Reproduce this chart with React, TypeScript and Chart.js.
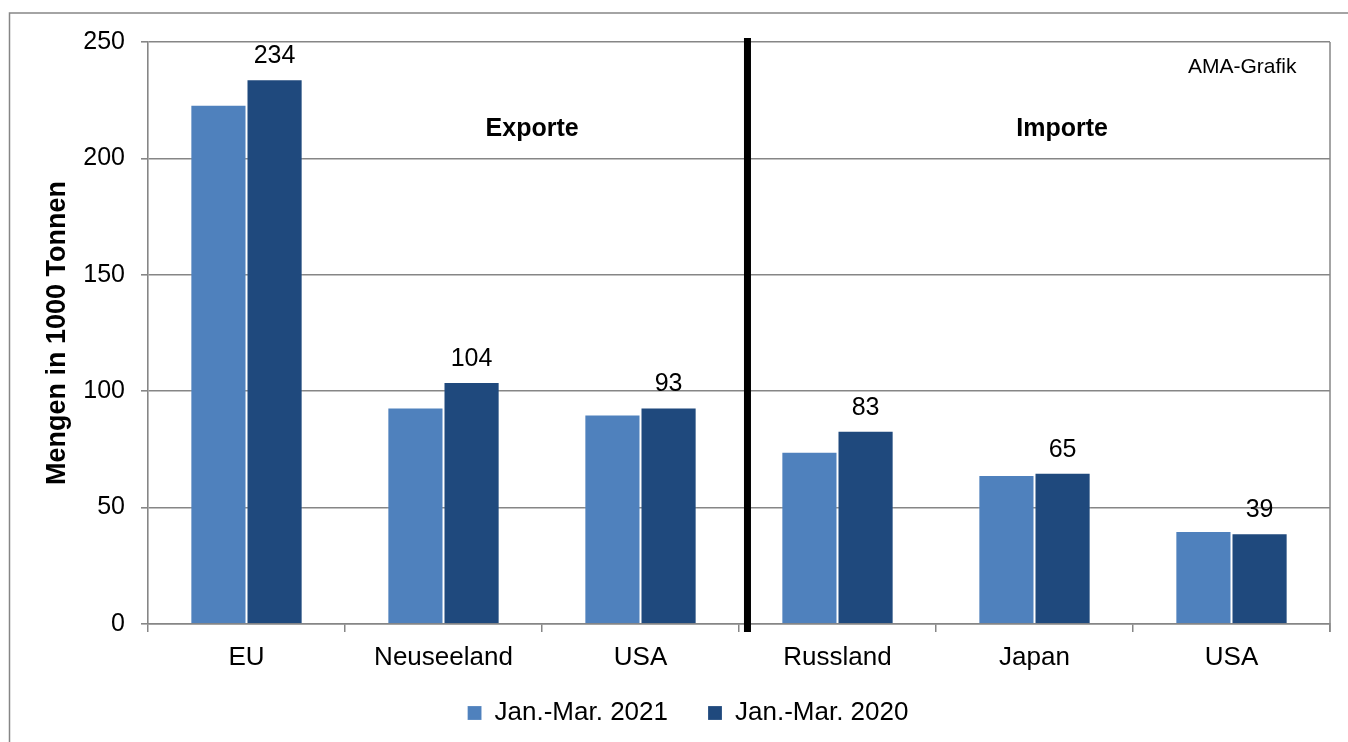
import React, { useEffect, useRef } from "react";
import { Chart, registerables } from "chart.js";

Chart.register(...registerables);

const categories = ["EU", "Neuseeland", "USA", "Russland", "Japan", "USA"];
const series2021 = [223, 93, 90, 74, 64, 40];
const series2020 = [234, 104, 93, 83, 65, 39];
const seriesLabels = ["Jan.-Mar. 2021", "Jan.-Mar. 2020"];
const yTickValues = [0, 50, 100, 150, 200, 250];
const sectionLabels = ["Exporte", "Importe"];
const sourceLabel = "AMA-Grafik";
const yTitle = "Mengen in 1000 Tonnen";

const FONT = '"Liberation Sans", Arial, Helvetica, sans-serif';
const GRAY = "#868686";

const decorPlugin = {
  id: "decor",
  afterLayout(chart: any) {
    // let x tick labels extend below the forced axis box (avoid clipping)
    const x = chart.scales.x;
    x.bottom = x.top + 60;
    // nudge legend to match the reference placement
    const lg = chart.legend;
    if (lg) {
      lg.left += 23;
      lg.right += 23;
      lg.top += 3;
      lg.bottom += 3;
    }
  },
  beforeDraw(chart: any) {
    const ctx = chart.ctx;
    ctx.save();
    ctx.strokeStyle = GRAY;
    ctx.lineWidth = 1.5;
    ctx.beginPath();
    ctx.moveTo(9.5, chart.height + 5);
    ctx.lineTo(9.5, 13);
    ctx.lineTo(chart.width + 5, 13);
    ctx.stroke();
    ctx.restore();
  },
  beforeDatasetsDraw(chart: any) {
    const { ctx, chartArea } = chart;
    ctx.save();
    ctx.strokeStyle = GRAY;
    ctx.lineWidth = 1.5;
    ctx.beginPath();
    ctx.moveTo(chartArea.right, chartArea.top);
    ctx.lineTo(chartArea.right, chartArea.bottom + 8);
    ctx.stroke();
    ctx.restore();
  },
  afterDatasetsDraw(chart: any) {
    const { ctx, chartArea } = chart;
    const x = chart.scales.x;
    const y = chart.scales.y;
    ctx.save();
    // value labels above the 2020 bars
    const meta = chart.getDatasetMeta(1);
    ctx.font = `25px ${FONT}`;
    ctx.fillStyle = "#000";
    ctx.textAlign = "center";
    ctx.textBaseline = "alphabetic";
    meta.data.forEach((el: any, i: number) => {
      ctx.fillText(String(series2020[i]), el.x, el.y - 16);
    });
    // divider between exports and imports
    const dx = x.getPixelForValue(2.543);
    ctx.fillStyle = "#000";
    ctx.fillRect(dx - 3.5, chartArea.top - 4, 7, chartArea.bottom - chartArea.top + 12);
    // section labels
    ctx.font = `bold 25px ${FONT}`;
    ctx.textBaseline = "middle";
    ctx.textAlign = "center";
    ctx.fillText(sectionLabels[0], x.getPixelForValue(1.45), y.getPixelForValue(212.5));
    ctx.fillText(sectionLabels[1], x.getPixelForValue(4.14), y.getPixelForValue(212.5));
    // source
    ctx.font = `21px ${FONT}`;
    ctx.textAlign = "right";
    ctx.fillText(sourceLabel, x.getPixelForValue(5.33), y.getPixelForValue(239));
    ctx.restore();
  },
};

export default function App() {
  const canvasRef = useRef<HTMLCanvasElement | null>(null);

  useEffect(() => {
    if (!canvasRef.current) return;
    const chart = new Chart(canvasRef.current, {
      type: "bar",
      data: {
        labels: categories,
        datasets: [
          {
            label: seriesLabels[0],
            data: series2021,
            backgroundColor: "#4F81BD",
            borderColor: "rgba(255,255,255,0.2)",
            borderWidth: 1,
            categoryPercentage: 0.57,
            barPercentage: 1.0,
          },
          {
            label: seriesLabels[1],
            data: series2020,
            backgroundColor: "#1F497D",
            borderColor: "rgba(255,255,255,0.2)",
            borderWidth: 1,
            categoryPercentage: 0.57,
            barPercentage: 1.0,
          },
        ],
      },
      options: {
        animation: false,
        responsive: true,
        maintainAspectRatio: false,
        layout: { padding: { top: 42, right: 18, bottom: 9, left: 0 } },
        plugins: {
          tooltip: { enabled: false },
          legend: {
            position: "bottom",
            labels: {
              boxWidth: 14,
              boxHeight: 14,
              padding: 40,
              color: "#000",
              font: { family: FONT, size: 26 },
            },
          },
        },
        scales: {
          x: {
            afterFit: (scale: any) => {
              scale.height = 33;
            },
            grid: {
              offset: true,
              drawOnChartArea: false,
              drawTicks: true,
              tickLength: 8,
              tickColor: GRAY,
              lineWidth: 1.5,
            },
            border: { display: true, color: GRAY, width: 1.5 },
            ticks: {
              color: "#000",
              padding: 10,
              font: { family: FONT, size: 26 },
            },
          },
          y: {
            min: 0,
            max: 250,
            afterFit: (scale: any) => {
              scale.width = 148;
            },
            afterBuildTicks: (scale: any) => {
              scale.ticks = yTickValues.map((v) => ({ value: v }));
            },
            grid: {
              color: GRAY,
              lineWidth: 1.6,
              drawTicks: true,
              tickLength: 7,
              tickColor: GRAY,
            },
            border: { display: true, color: GRAY, width: 1.6 },
            ticks: {
              color: "#000",
              padding: 16,
              font: { family: FONT, size: 25 },
            },
            title: {
              display: true,
              text: yTitle,
              color: "#000",
              font: { family: FONT, size: 27, weight: "bold" },
              padding: { top: 41, bottom: 0 },
            },
          },
        },
      },
      plugins: [decorPlugin],
    } as any);
    return () => chart.destroy();
  }, []);

  return (
    <div style={{ position: "absolute", left: 0, top: 0, width: 1348, height: 742, background: "#fff" }}>
      <canvas ref={canvasRef} />
    </div>
  );
}
